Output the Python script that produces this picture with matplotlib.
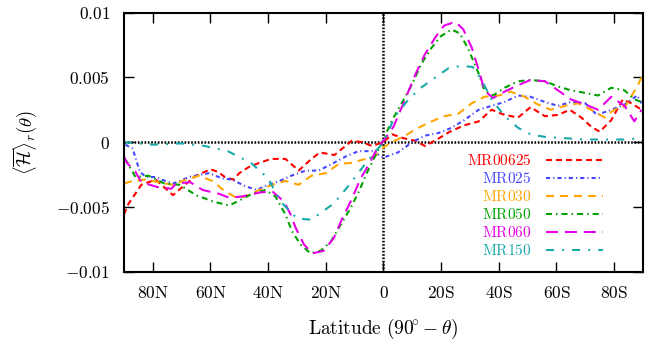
import matplotlib
matplotlib.use("Agg")
import matplotlib.pyplot as plt

plt.rcParams["mathtext.fontset"] = "cm"
plt.rcParams["font.family"] = "serif"
plt.rcParams["font.serif"] = ["cmr10", "DejaVu Serif"]
plt.rcParams["lines.scale_dashes"] = False

# latitude in degrees, north negative (left), south positive (right)
lat_mr00625 = [-90, -88.5, -86.7, -84, -79, -76, -73, -69.4, -65, -60, -57.4, -55, -52, -50, -46.5,
               -43, -39, -34, -29.4, -25, -22, -17, -11, -7.5, -4, 0, 3, 7, 11, 14.4, 18.5, 23,
               28, 33, 37.5, 42, 46.7, 51, 56, 60.5, 64.6, 68.6, 72, 75, 79, 83, 86, 89.5]
val_mr00625 = [-0.0056, -0.0048, -0.0042, -0.0033, -0.0029, -0.0035, -0.0041, -0.0034, -0.0026,
               -0.0021, -0.0023, -0.0027, -0.0029, -0.0024, -0.0019, -0.0016, -0.0013, -0.0013,
               -0.0022, -0.0013, -0.0008, -0.0010, 0.0001, 0.0000, -0.0003, 0.0000, 0.0006,
               0.0003, 0.0001, -0.0003, 0.0002, 0.0008, 0.0013, 0.0016, 0.0025, 0.0021, 0.0019,
               0.0027, 0.0020, 0.0021, 0.0025, 0.0019, 0.0012, 0.0008, 0.0017, 0.0033, 0.0030,
               0.0025]

lat_mr025 = [-89.5, -87, -86, -84.5, -82.3, -79, -77, -73, -70.5, -67.5, -63, -60.5, -56, -52.5,
             -48, -44, -41, -36, -32, -27, -22.5, -18, -13, -8.7, -4, 0, 5, 10, 14.4, 19, 23.6,
             28, 33, 37.5, 42, 46.7, 51, 56, 60.5, 65, 70, 74, 79, 83.6, 88, 89.5]
val_mr025 = [-0.0002, -0.0005, -0.0012, -0.0023, -0.0027, -0.0027, -0.0029, -0.0032, -0.0030,
             -0.0027, -0.0025, -0.0024, -0.0028, -0.0029, -0.0034, -0.0037, -0.0034, -0.0030,
             -0.0026, -0.0022, -0.0022, -0.0017, -0.0011, -0.0007, -0.0007, -0.0012, -0.0008,
             0.0000, 0.0005, 0.0007, 0.0011, 0.0017, 0.0025, 0.0028, 0.0031, 0.0036, 0.0035,
             0.0031, 0.0028, 0.0031, 0.0030, 0.0021, 0.0025, 0.0029, 0.0036, 0.0030]

lat_mr030 = [-90, -87, -82.5, -78, -73, -68.6, -64, -59.4, -55, -51, -48, -43, -38.6, -34, -29.4,
             -25, -20, -15.6, -11, -6.3, -3, 0, 3, 7.5, 12, 16.7, 21, 26, 30.6, 35, 40, 44, 49,
             53.6, 58, 63, 67.5, 72, 76.7, 80, 84, 88, 89.5]
val_mr030 = [-0.0032, -0.0030, -0.0029, -0.0031, -0.0033, -0.0029, -0.0026, -0.0030, -0.0038,
             -0.0043, -0.0042, -0.0037, -0.0033, -0.0030, -0.0033, -0.0026, -0.0024, -0.0017,
             -0.0016, -0.0013, -0.0011, -0.0004, 0.0000, 0.0005, 0.0011, 0.0016, 0.0020, 0.0022,
             0.0030, 0.0035, 0.0036, 0.0039, 0.0035, 0.0029, 0.0025, 0.0028, 0.0030, 0.0025,
             0.0019, 0.0025, 0.0028, 0.0043, 0.0050]

lat_mr050 = [-90, -89, -86, -81.5, -76, -70.7, -65, -59, -53.5, -49, -45.6, -41, -37.5, -34,
             -31.7, -28.8, -25.3, -21.8, -18.3, -14.9, -11.4, -8.5, -5.6, -2.7, 0, 3, 6.3, 10,
             13, 16.7, 20, 23.6, 26.5, 29.4, 33, 35, 38, 42, 46.7, 51, 56, 60.5, 65, 70, 74.4,
             79, 83.6, 87, 89.5]
val_mr050 = [-0.0013, -0.0015, -0.0027, -0.0026, -0.0032, -0.0033, -0.0041, -0.0046, -0.0049,
             -0.0044, -0.0040, -0.0037, -0.0042, -0.0056, -0.0069, -0.0079, -0.0086, -0.0084,
             -0.0077, -0.0064, -0.0051, -0.0038, -0.0023, -0.0010, 0.0002, 0.0017, 0.0030,
             0.0045, 0.0060, 0.0073, 0.0082, 0.0087, 0.0084, 0.0072, 0.0053, 0.0040, 0.0036,
             0.0042, 0.0047, 0.0048, 0.0047, 0.0043, 0.0040, 0.0038, 0.0036, 0.0042, 0.0040,
             0.0033, 0.0031]

lat_mr060 = [-90, -89, -86, -84, -78, -73.5, -72, -67, -62.7, -57, -53.5, -49, -43, -38.6,
             -34.5, -32.2, -30.5, -27.6, -24.7, -20.7, -17.2, -14.3, -11.4, -7.9, -5, -2.2, 0,
             3.5, 7.5, 11, 14.4, 18, 21, 25, 27.7, 30.6, 33, 35, 38, 42, 46.7, 51, 56, 60.5, 65,
             70, 74.4, 79, 83.6, 87, 89.5]
val_mr060 = [-0.0011, -0.0016, -0.0023, -0.0031, -0.0035, -0.0036, -0.0032, -0.0031, -0.0037,
             -0.0040, -0.0043, -0.0042, -0.0039, -0.0038, -0.0046, -0.0056, -0.0066, -0.0079,
             -0.0086, -0.0084, -0.0074, -0.0059, -0.0046, -0.0028, -0.0017, -0.0005, 0.0001,
             0.0012, 0.0033, 0.0052, 0.0068, 0.0081, 0.0090, 0.0093, 0.0087, 0.0073, 0.0056,
             0.0040, 0.0034, 0.0039, 0.0044, 0.0048, 0.0047, 0.0040, 0.0033, 0.0029, 0.0025,
             0.0035, 0.0028, 0.0016, 0.0025]

lat_mr150 = [-90, -80, -70, -62, -54, -46, -40, -35.7, -30, -25, -20.7, -17, -11.5, -5.7, 0,
             4, 8.7, 13, 18, 22.5, 27, 31, 34, 37.5, 42, 46.7, 51, 56, 63, 70, 77, 83.6, 89.5]
val_mr150 = [0.0000, -0.0002, -0.0001, -0.0003, -0.0007, -0.0016, -0.0028, -0.0046, -0.0059,
             -0.0060, -0.0053, -0.0047, -0.0032, -0.0015, 0.0000, 0.0020, 0.0033, 0.0042,
             0.0050, 0.0057, 0.0059, 0.0058, 0.0048, 0.0033, 0.0020, 0.0011, 0.0006, 0.0004,
             0.0003, 0.0002, 0.0002, 0.0002, 0.0003]

tick_pos = [-80, -60, -40, -20, 0, 20, 40, 60, 80]
tick_labels = ["80N", "60N", "40N", "20N", "0", "20S", "40S", "60S", "80S"]
ytick_pos = [-0.01, -0.005, 0, 0.005, 0.01]
ytick_labels = ["-0.01", "-0.005", "0", "0.005", "0.01"]

series = [
    ("MR00625", lat_mr00625, val_mr00625, "#ff0000", (0, (4.3, 2.9))),
    ("MR025", lat_mr025, val_mr025, "#4646ff", (0, (3.0, 2.2, 0.8, 2.2))),
    ("MR030", lat_mr030, val_mr030, "#ffa500", (0, (5.8, 4.3))),
    ("MR050", lat_mr050, val_mr050, "#00a000", (0, (4.3, 2.9, 1.1, 2.9))),
    ("MR060", lat_mr060, val_mr060, "#e600e6", (0, (8.6, 5.0))),
    ("MR150", lat_mr150, val_mr150, "#18aaaa", (0, (5.8, 5.8, 1.4, 5.8))),
]

fig = plt.figure(figsize=(6.45, 3.41), dpi=100)
ax = fig.add_axes([0.1922, 0.2038, 0.8047, 0.759])

# zero lines
ax.axhline(0, color="black", lw=1.8, ls=(0, (1.2, 1.2)), zorder=1)
ax.axvline(0, color="black", lw=1.8, ls=(0, (1.2, 1.2)), zorder=1)

for name, x, y, color, style in series:
    ax.plot(x, y, color=color, lw=1.5, ls=style, label=r"$\mathrm{%s}$" % name, zorder=2)

ax.set_xlim(-90, 90)
ax.set_ylim(-0.01, 0.01)
ax.set_xticks(tick_pos)
ax.set_xticklabels([r"$\mathrm{%s}$" % t for t in tick_labels])
ax.set_yticks(ytick_pos)
ax.set_yticklabels([r"$%s$" % t for t in ytick_labels])
ax.tick_params(direction="in", length=7, width=1.0, top=True, right=True, labelsize=12.5, pad=10)
for s in ax.spines.values():
    s.set_linewidth(1.5)

ax.set_xlabel(r"$\mathrm{Latitude}\ (90\!{}^{\circ} - \theta)$", fontsize=14, labelpad=11)
ax.set_ylabel(r"$\langle\overline{\mathcal{H}}\rangle_r(\theta)$", fontsize=13.5, labelpad=12)

ax.legend(loc="upper right", bbox_to_anchor=(603 / 645, 1 - 153 / 341),
          bbox_transform=fig.transFigure, frameon=False, markerfirst=False,
          handlelength=3.7, handletextpad=1.0, labelspacing=0.2, fontsize=11,
          borderpad=0, borderaxespad=0, labelcolor="linecolor")

fig.savefig("out.png", dpi=100)
